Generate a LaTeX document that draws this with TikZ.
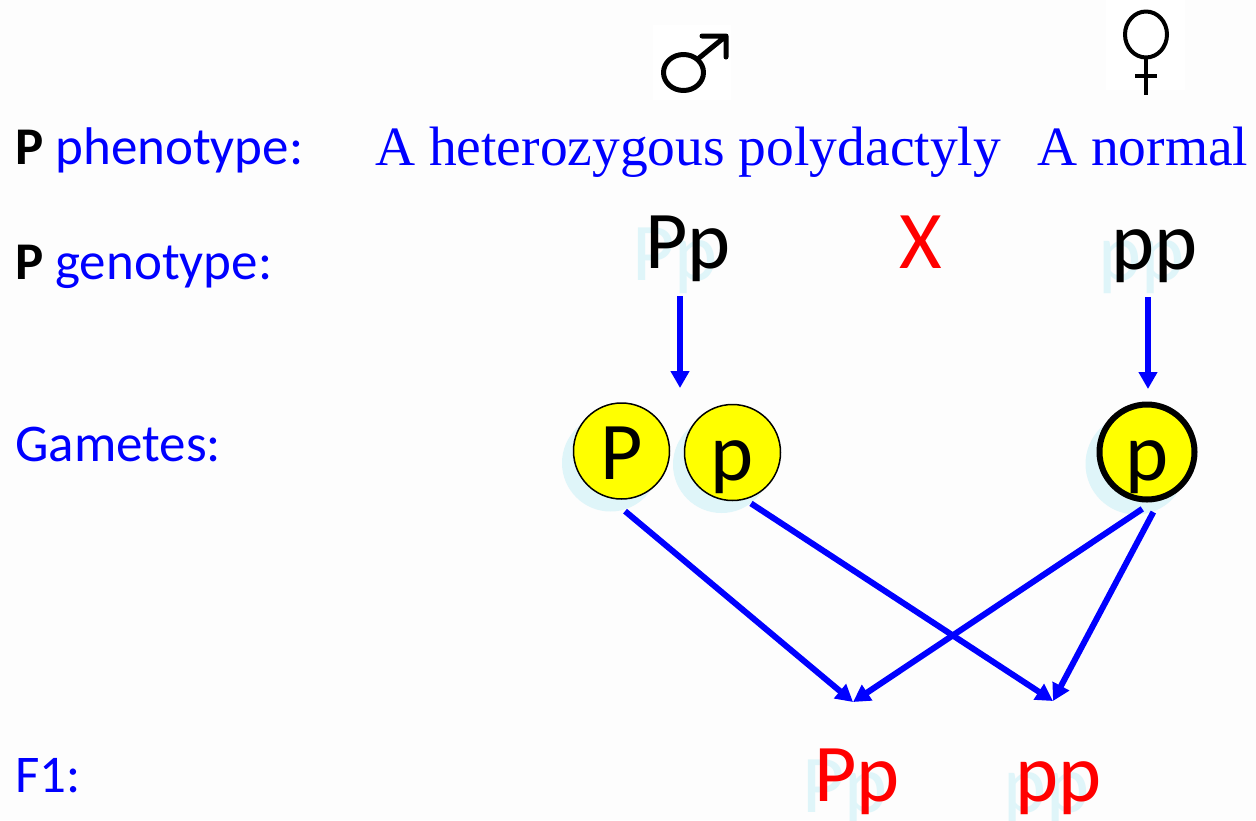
\documentclass[tikz,border=0pt]{standalone}
\usepackage{fontspec}
\setmainfont{Carlito}
\newfontfamily\bookface{Liberation Serif}
\usepackage{xcolor}
\usetikzlibrary{positioning,arrows.meta,calc}
\definecolor{paper}{HTML}{FDFDFD}
\definecolor{shade}{HTML}{DFF5F9}
\definecolor{pureblue}{HTML}{0000FF}
\definecolor{purered}{HTML}{FF0000}
\definecolor{pureyellow}{HTML}{FFFF00}

\begin{document}
\begin{tikzpicture}[x=1pt, y=-1pt,
  rowlabel/.style={anchor=base west, inner sep=0pt, text=pureblue, font=\fontsize{53}{62}\selectfont},
  parent/.style={anchor=base west, inner sep=0pt, text=pureblue, font=\bookface\fontsize{55.5}{66}\selectfont},
  allele/.style={anchor=base west, inner sep=0pt, font=\fontsize{82}{98}\selectfont},
  ghost/.style={allele, text=shade},
  gamete/.style={circle, draw, fill=pureyellow, line width=1.5pt, minimum size=96pt, inner sep=0pt,
                 text height=56pt, text depth=0pt, font=\fontsize{82}{98}\selectfont},
  gameteshade/.style={circle, fill=shade, minimum size=97pt, inner sep=0pt},
  arr/.style={-{Triangle[length=17pt,width=18pt]}, pureblue, line width=6pt},
  sign/.style={line width=5pt, line cap=round, line join=round}
]
\useasboundingbox[fill=paper] (0,0) rectangle (1256,820);
% sex signs
\fill[white] (653,25) rectangle (731,100);
\fill[white] (1106,0) rectangle (1185,90);
\draw[sign] (683.5,72.5) ellipse [x radius=20, y radius=18];
\draw[sign] (699,58) -- (726,36) (702,36) -- (726,36) -- (726,57);
\draw[sign, line width=4pt] (1146,34.5) ellipse [x radius=21, y radius=23];
\draw[sign, line width=4pt, line cap=butt] (1146,58) -- (1146,95) (1135,76) -- (1157,76);
% left column
\node[rowlabel] (phenoL) at (15,164) {\textcolor{black}{\textbf{P}} phenotype:};
\node[rowlabel] (genoL) at (15,279) {\textcolor{black}{\textbf{P}} genotype:};
\node[rowlabel] (gameteL) at (15,461) {Gametes:};
\node[rowlabel] (f1L) at (15,792) {F1:};
% parents
\node[parent] (phenoM) at (375,165) {A heterozygous polydactyly};
\node[parent] (phenoF) at (1037,165) {A normal};
\node[ghost] (genoMs) at (632,280) {Pp};
\node[ghost] (genoFs) at (1098,280) {pp};
\node[allele] (genoM) at (645,268) {Pp};
\node[allele] (genoF) at (1111,269) {pp};
\node[allele, text=purered] (cross) at (899,268) {X};
% gametes
\node[gameteshade] (gPs) at (610.5,463) {};
\node[gameteshade] (gps) at (721.5,464.5) {};
\node[gameteshade, minimum size=101pt] (gFs) at (1136,464) {};
\node[gamete] (gP) at (621.5,451) {P};
\node[gamete] (gp) at (732.5,452.5) {p};
\node[gamete, line width=6pt, minimum size=95pt] (gF) at (1147,452) {p};
% offspring
\node[ghost] (offPs) at (802,812) {Pp};
\node[ghost] (offps) at (1003,812) {pp};
\node[allele, text=purered] (offP) at (814,801) {Pp};
\node[allele, text=purered] (offp) at (1015,801) {pp};
\coordinate (tipM) at (680,388);
\coordinate (tipF) at (1148,389);
\coordinate (tipP) at (853,702);
\coordinate (tipp) at (1053,701);
\draw[arr, shorten <=15pt] (genoM.south -| tipM) -- (tipM);
\draw[arr, shorten <=15pt] (genoF.south -| tipF) -- (tipF);
\draw[arr, shorten <=20pt] (gP.-104) -- (tipP);
\draw[arr, shorten <=7pt] (gp.-75) -- (tipp);
\draw[arr, shorten <=12pt] (gF.-84) -- (tipP);
\draw[arr, shorten <=12.5pt] (gF.-76) -- (tipp);
\end{tikzpicture}
\end{document}
